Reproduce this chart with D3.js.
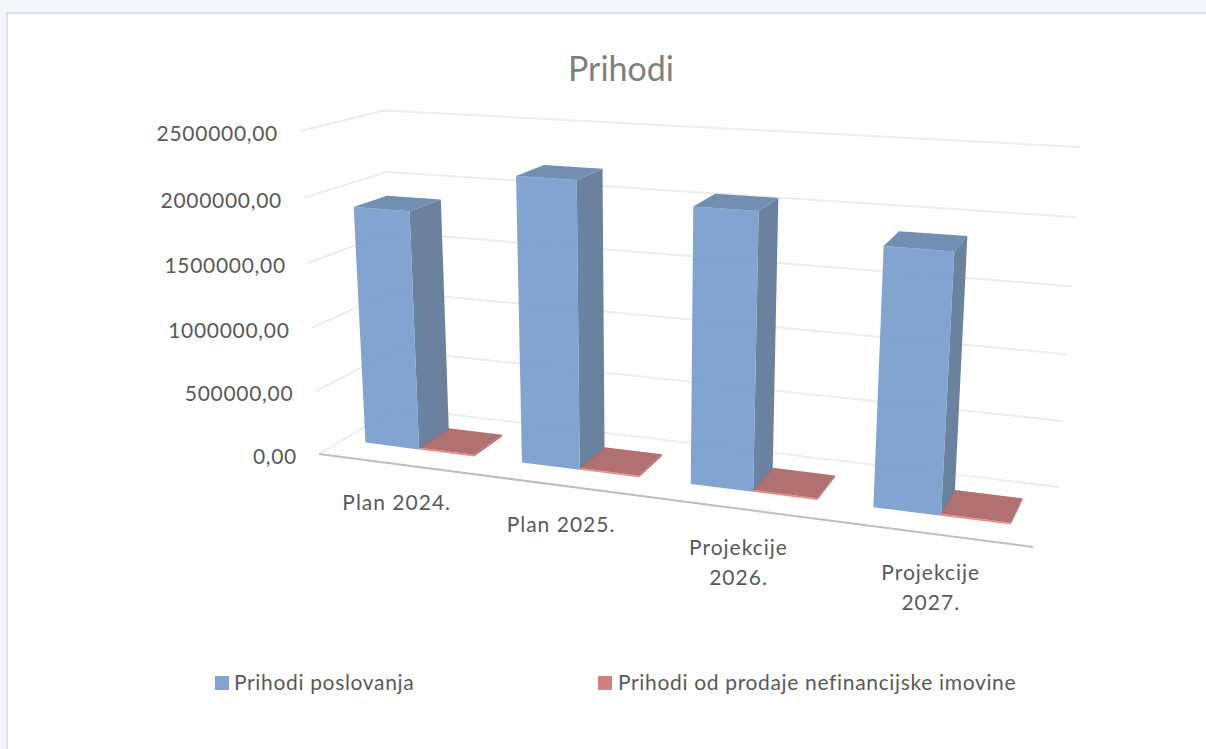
<!DOCTYPE html>
<html>
<head>
<meta charset="utf-8">
<script src="https://cdn.jsdelivr.net/npm/d3@7"></script>
<style>
  html, body { margin: 0; padding: 0; background: #f3f6fb; overflow: hidden; }
  svg { display: block; font-family: Lato, sans-serif; }
</style>
</head>
<body>
<div id="chart"></div>
<script>
const title = 'Prihodi';
const categories = ['Plan 2024.', 'Plan 2025.', 'Projekcije 2026.', 'Projekcije 2027.'];
const seriesNames = ['Prihodi poslovanja', 'Prihodi od prodaje nefinancijske imovine'];
const prihodiPoslovanja = [1880000, 2205000, 2072000, 1890000];
const prihodiProdaje = [14000, 14000, 14000, 14000];
const valueTicks = [0, 500000, 1000000, 1500000, 2000000, 2500000];

const width = 1206;
const height = 749;

// corners of the 3d box as they land on screen
const box = {
  floorFrontLeft: [319, 454], floorFrontRight: [1033, 547],
  floorBackLeft: [397, 408], floorBackRight: [1059, 487],
  topFrontLeft: [300, 131], topFrontRight: [1057.5, 179],
  topBackLeft: [384, 110.5], topBackRight: [1080, 147]
};
const persp = { c: 1.17, v: 1.04, d: 1.05 };
const depthFront = 0.32;
const depthBack = 0.73;

const colors = {
  blue: { front: '#7a9ccc', side: '#607897', top: '#6687ab', legend: '#83a4d0' },
  red: { front: '#e9837f', side: '#a96b6a', top: '#aa6665', legend: '#d18080' }
};

const warp = (t, k) => t / (t + (1 - t) * k);
const mix = (a, b, t) => [a[0] + (b[0] - a[0]) * t, a[1] + (b[1] - a[1]) * t];

// c = along categories, v = height, d = depth, all 0..1
function project(c, v, d) {
  const cc = warp(c, persp.c);
  const vv = warp(v, persp.v);
  const dd = warp(d, persp.d);
  const floor = mix(
    mix(box.floorFrontLeft, box.floorFrontRight, cc),
    mix(box.floorBackLeft, box.floorBackRight, cc), dd);
  const top = mix(
    mix(box.topFrontLeft, box.topFrontRight, cc),
    mix(box.topBackLeft, box.topBackRight, cc), dd);
  return mix(floor, top, vv);
}

const x0 = d3.scaleBand().domain(categories).range([0, 1]);
const x1 = d3.scaleBand().domain(seriesNames).range([0, x0.bandwidth()]).paddingOuter(0.425);
const y = d3.scaleLinear().domain([0, 2500000]).range([0, 1]);
const fmt = d3.formatLocale({ decimal: ',', thousands: '', grouping: [3], currency: ['', ''] }).format('.2f');
const line = d3.line();

const svg = d3.select('#chart').append('svg')
  .attr('width', width)
  .attr('height', height);

// panel
svg.append('rect').attr('x', 7).attr('y', 13).attr('width', width).attr('height', height)
  .attr('fill', '#fff').attr('stroke', '#d9d9d9').attr('stroke-width', 1.5);

svg.append('text')
  .attr('x', 621).attr('y', 81)
  .attr('text-anchor', 'middle')
  .attr('font-size', 34)
  .attr('fill', '#7f7f7f')
  .text(title);

// gridlines on the two walls
svg.append('g').attr('class', 'grid')
  .selectAll('path')
  .data(valueTicks)
  .join('path')
    .attr('d', t => line([project(0, y(t), 0), project(0, y(t), 1), project(1, y(t), 1)]))
    .attr('fill', 'none')
    .attr('stroke', '#ececec')
    .attr('stroke-width', 2);

// value labels
svg.append('g').attr('class', 'y-labels')
  .selectAll('text')
  .data(valueTicks)
  .join('text')
    .attr('x', t => project(0, y(t), 0)[0] - 22)
    .attr('y', t => project(0, y(t), 0)[1] + 10)
    .attr('text-anchor', 'end')
    .attr('font-size', 21)
    .attr('letter-spacing', 0.7)
    .attr('fill', '#595959')
    .text(t => fmt(t));

// floor front edge
svg.append('path')
  .attr('d', line([project(0, 0, 0), project(1, 0, 0)]))
  .attr('stroke', '#bfbfbf')
  .attr('stroke-width', 2)
  .attr('fill', 'none');

const rows = categories.flatMap((cat, i) => [
  { cat, series: seriesNames[0], value: prihodiPoslovanja[i], color: colors.blue },
  { cat, series: seriesNames[1], value: prihodiProdaje[i], color: colors.red }
]);

function faces(r) {
  const left = x0(r.cat) + x1(r.series);
  const right = left + x1.bandwidth();
  const top = y(r.value);
  const P = (c, v, d) => project(c, v, d);
  return [
    { fill: r.color.side, pts: [P(right, 0, depthFront), P(right, 0, depthBack), P(right, top, depthBack), P(right, top, depthFront)] },
    { fill: r.color.front, pts: [P(left, 0, depthFront), P(right, 0, depthFront), P(right, top, depthFront), P(left, top, depthFront)] },
    { fill: r.color.top, pts: [P(left, top, depthFront), P(right, top, depthFront), P(right, top, depthBack), P(left, top, depthBack)] }
  ];
}

svg.append('g').attr('class', 'bars')
  .selectAll('g')
  .data(rows)
  .join('g')
  .selectAll('path')
  .data(faces)
  .join('path')
    .attr('d', f => line(f.pts) + 'Z')
    .attr('fill', f => f.fill)
    .attr('fill-opacity', 0.93);

// category labels, long ones wrap on two lines
const catLabels = svg.append('g').attr('class', 'x-labels')
  .selectAll('text')
  .data(categories)
  .join('text')
    .attr('transform', c => {
      const p = project(x0(c) + x0.bandwidth() / 2, 0, 0);
      return `translate(${p[0]},${p[1] + 46})`;
    })
    .attr('text-anchor', 'middle')
    .attr('font-size', 21)
    .attr('letter-spacing', 1)
    .attr('fill', '#595959');

catLabels.selectAll('tspan')
  .data(c => c.length > 10 ? c.split(' ') : [c])
  .join('tspan')
    .attr('x', 0)
    .attr('dy', (d, i) => i ? 30 : 0)
    .text(d => d);

// legend
const legendX = [215, 598];
const legend = svg.append('g').attr('class', 'legend')
  .selectAll('g')
  .data(seriesNames)
  .join('g')
    .attr('transform', (d, i) => `translate(${legendX[i]},676)`);

legend.append('rect')
  .attr('width', 14).attr('height', 14)
  .attr('fill', (d, i) => i ? colors.red.legend : colors.blue.legend);

legend.append('text')
  .attr('x', (d, i) => i ? 20 : 19)
  .attr('y', 14)
  .attr('font-size', 21)
  .attr('letter-spacing', 0.66)
  .attr('fill', '#595959')
  .text(d => d);
</script>
</body>
</html>
